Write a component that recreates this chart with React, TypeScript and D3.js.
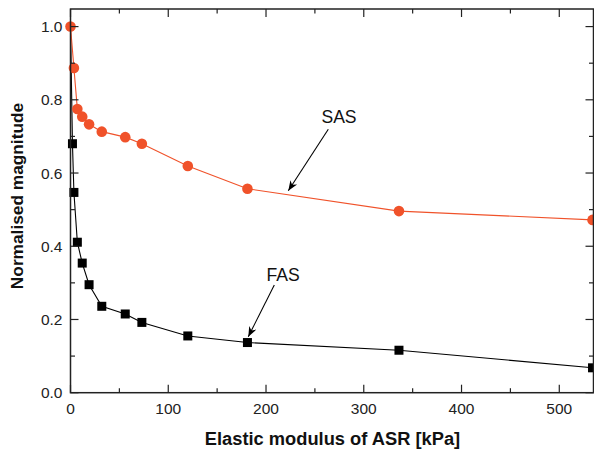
import React from "react";
import * as d3 from "d3";

const xValues = [0, 3.5, 7, 12, 19, 32, 56, 73, 120, 181, 336, 534];
const xValuesFAS = [0, 2, 3.5, 7, 12, 19, 32, 56, 73, 120, 181, 336, 534];
const sasValues = [1.0, 0.887, 0.775, 0.754, 0.733, 0.713, 0.698, 0.68, 0.619, 0.557, 0.496, 0.472];
const fasValues = [1.0, 0.68, 0.547, 0.411, 0.354, 0.295, 0.236, 0.215, 0.192, 0.155, 0.137, 0.116, 0.068];
const xTicks = [0, 100, 200, 300, 400, 500];
const yTicks = [0, 0.2, 0.4, 0.6, 0.8, 1.0];

const W = 594, H = 449;
const m = { left: 70.5, right: 0.5, top: 9, bottom: 56.3 };
const ORANGE = "#f0522a";

export default function App() {
  const x = d3.scaleLinear().domain([0, 535]).range([m.left, W - m.right]);
  const y = d3.scaleLinear().domain([0, 1.048]).range([H - m.bottom, m.top]);
  const line = d3.line<[number, number]>().x(d => x(d[0])).y(d => y(d[1]));
  const sas: [number, number][] = xValues.map((v, i) => [v, sasValues[i]]);
  const fas: [number, number][] = xValuesFAS.map((v, i) => [v, fasValues[i]]);
  const x0 = m.left, x1 = W - m.right, y0 = H - m.bottom, y1 = m.top;
  const xMinor = d3.range(50, 535, 100);
  const yMinor = d3.range(0.1, 1.05, 0.2);
  const font = "Liberation Sans, Arial, sans-serif";
  return (
    <svg width={W} height={H} style={{ position: "absolute", left: 0, top: 0 }}>
      <defs>
        <marker id="ah" viewBox="0 0 10 10" refX="10" refY="5" markerWidth="10" markerHeight="10" markerUnits="userSpaceOnUse" orient="auto">
          <path d="M0,1 L10,5 L0,9 L3,5 Z" fill="#000" />
        </marker>
      </defs>
      <path d={line(fas) || ""} fill="none" stroke="#000" strokeWidth={1.1} />
      {fas.slice(1).map((d, i) => (
        <rect key={"f" + i} x={x(d[0]) - 4.5} y={y(d[1]) - 4.5} width={9} height={9} fill="#000" />
      ))}
      <path d={line(sas) || ""} fill="none" stroke={ORANGE} strokeWidth={1.1} />
      {sas.map((d, i) => (
        <circle key={"s" + i} cx={x(d[0])} cy={y(d[1])} r={5.3} fill={ORANGE} />
      ))}
      <rect x={x0} y={y1} width={x1 - x0} height={y0 - y1} fill="none" stroke="#222" strokeWidth={1.5} />
      {xTicks.map(t => (
        <g key={"xt" + t}>
          <line x1={x(t)} x2={x(t)} y1={y0} y2={y0 - 8} stroke="#222" strokeWidth={1.2} />
          <line x1={x(t)} x2={x(t)} y1={y1} y2={y1 + 8} stroke="#222" strokeWidth={1.2} />
          <text x={x(t)} y={y0 + 21} textAnchor="middle" fontFamily={font} fontSize={15.5} fill="#222">{t}</text>
        </g>
      ))}
      {xMinor.map(t => (
        <g key={"xm" + t}>
          <line x1={x(t)} x2={x(t)} y1={y0} y2={y0 - 4.5} stroke="#222" strokeWidth={1.2} />
          <line x1={x(t)} x2={x(t)} y1={y1} y2={y1 + 4.5} stroke="#222" strokeWidth={1.2} />
        </g>
      ))}
      {yTicks.map(t => (
        <g key={"yt" + t}>
          <line x1={x0} x2={x0 + 8} y1={y(t)} y2={y(t)} stroke="#222" strokeWidth={1.2} />
          <line x1={x1} x2={x1 - 8} y1={y(t)} y2={y(t)} stroke="#222" strokeWidth={1.2} />
          <text x={x0 - 8} y={y(t) + 5.5} textAnchor="end" fontFamily={font} fontSize={15.5} fill="#222">{t.toFixed(1)}</text>
        </g>
      ))}
      {yMinor.map(t => (
        <g key={"ym" + t}>
          <line x1={x0} x2={x0 + 4.5} y1={y(t)} y2={y(t)} stroke="#222" strokeWidth={1.2} />
          <line x1={x1} x2={x1 - 4.5} y1={y(t)} y2={y(t)} stroke="#222" strokeWidth={1.2} />
        </g>
      ))}
      <text x={332.5} y={444.5} textAnchor="middle" fontFamily={font} fontSize={18.3} fontWeight="bold" fill="#111">Elastic modulus of ASR [kPa]</text>
      <text transform={`translate(23,196) rotate(-90)`} textAnchor="middle" fontFamily={font} fontSize={17.3} fontWeight="bold" fill="#111">Normalised magnitude</text>
      <text x={339} y={122.7} textAnchor="middle" fontFamily={font} fontSize={17.6} fill="#111">SAS</text>
      <line x1={328.3} y1={129.3} x2={288.3} y2={190.7} stroke="#000" strokeWidth={1.1} markerEnd="url(#ah)" />
      <text x={283} y={281} textAnchor="middle" fontFamily={font} fontSize={17.6} fill="#111">FAS</text>
      <line x1={274.3} y1={285} x2={248.3} y2={336.7} stroke="#000" strokeWidth={1.1} markerEnd="url(#ah)" />
    </svg>
  );
}
